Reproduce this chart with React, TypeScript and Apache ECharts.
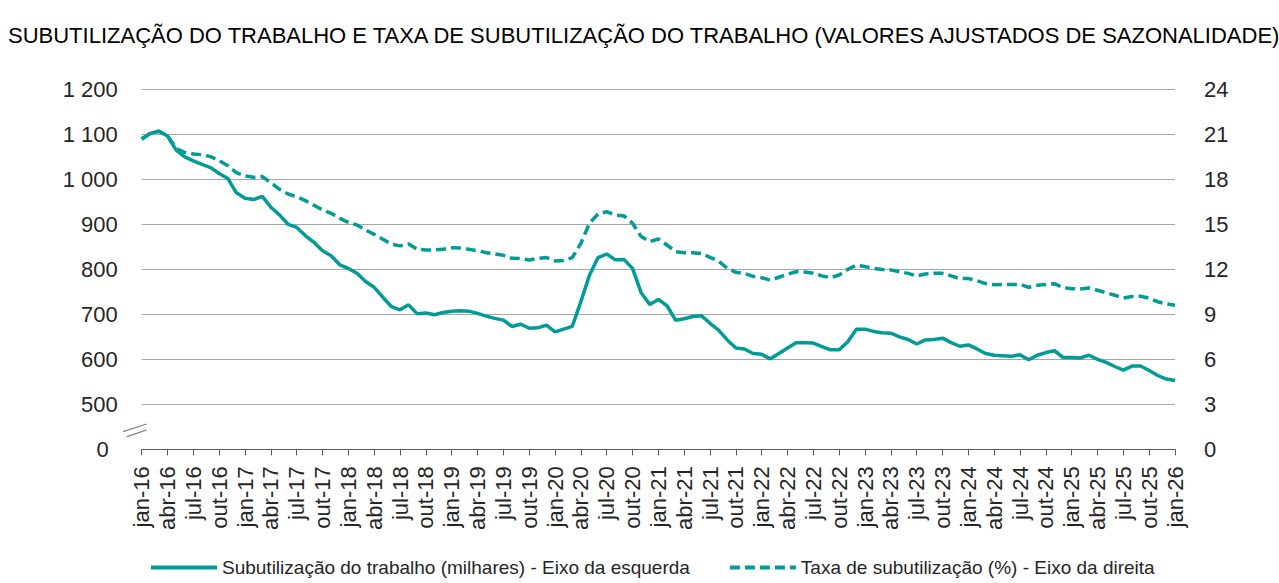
import React, { useEffect, useRef } from "react";
import * as echarts from "echarts";

const monthAbbr = ["jan", "fev", "mar", "abr", "mai", "jun", "jul", "ago", "set", "out", "nov", "dez"];
const years = ["16", "17", "18", "19", "20", "21", "22", "23", "24", "25", "26"];

const categories: string[] = [];
years.forEach((y, yi) => {
  monthAbbr.forEach((m, mi) => {
    if (yi < years.length - 1 || mi === 0) categories.push(`${m}-${y}`);
  });
});

// Subutilização do trabalho (milhares) - left axis
const subutilizacao = [
  1089, 1102, 1107, 1096, 1065, 1050, 1041, 1033, 1026, 1013, 1002, 970,
  958, 955, 962, 938, 921, 900, 893, 875, 860, 841, 830, 810,
  802, 791, 773, 760, 738, 717, 710, 721, 701, 703, 699, 704,
  707, 708, 707, 702, 696, 691, 687, 673, 678, 669, 670, 676,
  661, 667, 673, 728, 787, 826, 834, 821, 822, 802, 748, 722,
  733, 719, 687, 690, 695, 697, 680, 665, 643, 625, 623, 613,
  611, 601, 613, 625, 637, 637, 636, 628, 621, 621, 639, 667,
  667, 662, 659, 658, 650, 644, 634, 643, 644, 647, 637, 629,
  632, 623, 613, 609, 608, 607, 610, 599, 609, 615, 619, 604,
  604, 603, 609, 600, 593, 584, 576, 585, 585, 575, 564, 556,
  553,
];

// Taxa de subutilização (%) - right axis
const taxa = [
  20.7, 21.06, 21.2, 20.9, 20.07, 19.78, 19.69, 19.64, 19.51, 19.24, 18.91, 18.44,
  18.22, 18.13, 18.18, 17.78, 17.33, 17.02, 16.84, 16.58, 16.27, 15.96, 15.73, 15.4,
  15.13, 14.96, 14.62, 14.33, 14.0, 13.67, 13.56, 13.69, 13.33, 13.29, 13.29, 13.33,
  13.44, 13.42, 13.33, 13.24, 13.11, 13.02, 12.93, 12.73, 12.71, 12.62, 12.73, 12.78,
  12.56, 12.58, 12.78, 13.73, 15.07, 15.69, 15.84, 15.62, 15.56, 15.07, 14.18, 13.84,
  14.02, 13.62, 13.18, 13.11, 13.11, 13.05, 12.8, 12.55, 12.07, 11.8, 11.72, 11.53,
  11.44, 11.27, 11.47, 11.67, 11.84, 11.82, 11.73, 11.56, 11.44, 11.62, 12.0, 12.27,
  12.18, 12.07, 11.98, 11.96, 11.84, 11.73, 11.56, 11.69, 11.73, 11.73, 11.56, 11.38,
  11.39, 11.24, 11.05, 10.97, 10.98, 10.98, 11.0, 10.8, 10.93, 10.98, 11.04, 10.78,
  10.71, 10.69, 10.76, 10.6, 10.44, 10.27, 10.09, 10.18, 10.2, 10.07, 9.84, 9.69,
  9.6,
];

const leftTicks = [400, 500, 600, 700, 800, 900, 1000, 1100, 1200];
const rightTicks = [0, 3, 6, 9, 12, 15, 18, 21, 24];

const title =
  "SUBUTILIZAÇÃO DO TRABALHO E TAXA DE SUBUTILIZAÇÃO DO TRABALHO (VALORES AJUSTADOS DE SAZONALIDADE)";
const seriesNames = [
  "Subutilização do trabalho (milhares) - Eixo da esquerda",
  "Taxa de subutilização (%) - Eixo da direita",
];

const COLOR = "#009C95";
const FONT = "Liberation Sans";

export default function App() {
  const ref = useRef<HTMLDivElement>(null);
  useEffect(() => {
    document.body.style.margin = "0";
    if (!ref.current) return;
    const chart = echarts.init(ref.current, undefined, { renderer: "svg" });
    const fmtLeft = (v: number) => {
      if (v === leftTicks[0]) return "{z|0}";
      const s = String(v);
      return s.length > 3 ? s.slice(0, s.length - 3) + " " + s.slice(-3) : s;
    };
    chart.setOption({
      animation: false,
      textStyle: { fontFamily: FONT },
      title: {
        text: title,
        left: 3,
        top: 19,
        textStyle: { fontFamily: FONT, fontSize: 22, fontWeight: "normal", color: "#000" },
      },
      legend: {
        bottom: 1,
        left: 144,
        itemWidth: 66,
        itemHeight: 10,
        itemGap: 38,
        itemStyle: { opacity: 0 },
        lineStyle: { width: 4 },
        textStyle: { fontFamily: FONT, fontSize: 19, color: "#262626" },
        data: seriesNames,
      },
      grid: { left: 141.7, right: 104, top: 89.3, bottom: 133.7, containLabel: false },
      xAxis: {
        type: "category",
        data: categories,
        boundaryGap: false,
        axisLine: { lineStyle: { color: "#595959", width: 1.2 } },
        axisTick: { interval: 2, length: 6, lineStyle: { color: "#595959" } },
        axisLabel: {
          interval: 2,
          rotate: 90,
          margin: 17,
          fontFamily: FONT,
          fontSize: 22,
          color: "#262626",
        },
        splitLine: { show: false },
      },
      yAxis: [
        {
          type: "value",
          min: leftTicks[0],
          max: leftTicks[leftTicks.length - 1],
          interval: 100,
          axisLine: { show: false },
          axisTick: { show: false },
          axisLabel: {
            margin: 24,
            fontFamily: FONT,
            fontSize: 22,
            color: "#262626",
            formatter: fmtLeft,
            rich: { z: { fontFamily: FONT, fontSize: 22, color: "#262626", padding: [0, 9, 0, 0] } },
          },
          splitLine: { lineStyle: { color: "#a6a6a6", width: 1.2 } },
        },
        {
          type: "value",
          min: rightTicks[0],
          max: rightTicks[rightTicks.length - 1],
          interval: 3,
          axisLine: { show: false },
          axisTick: { show: false },
          axisLabel: { margin: 29, fontFamily: FONT, fontSize: 22, color: "#262626" },
          splitLine: { show: false },
        },
      ],
      graphic: [
        {
          type: "line",
          shape: { x1: 123, y1: 431.7, x2: 146.7, y2: 424 },
          style: { stroke: "#808080", lineWidth: 1.3 },
        },
        {
          type: "line",
          shape: { x1: 126.7, y1: 436.7, x2: 146.7, y2: 430 },
          style: { stroke: "#808080", lineWidth: 1.3 },
        },
      ],
      series: [
        {
          name: seriesNames[0],
          type: "line",
          yAxisIndex: 0,
          data: subutilizacao,
          symbol: "none",
          lineStyle: { color: COLOR, width: 3.5 },
          itemStyle: { color: COLOR },
          z: 3,
        },
        {
          name: seriesNames[1],
          type: "line",
          yAxisIndex: 1,
          data: taxa,
          symbol: "none",
          lineStyle: { color: COLOR, width: 3.5, type: [10, 5] },
          itemStyle: { color: COLOR },
          z: 2,
        },
      ],
    });
    return () => chart.dispose();
  }, []);
  return <div ref={ref} style={{ width: 1279, height: 583 }} />;
}
